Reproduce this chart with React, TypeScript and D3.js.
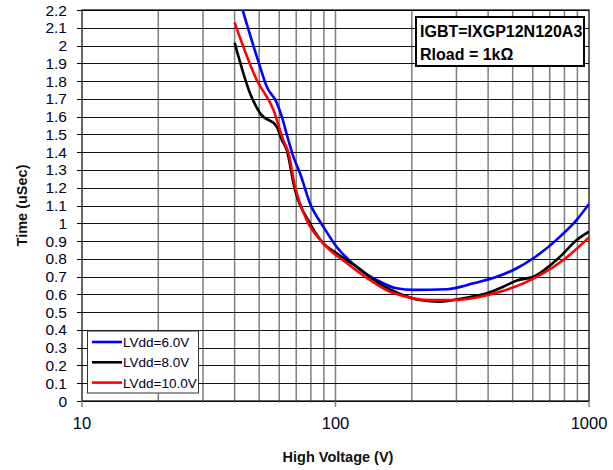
import React from 'react';
import * as d3 from 'd3';

// (voltage in V, time in uSec)
const lv6V = [43.0, 50.4, 53.5, 58.6, 61.4, 65.1, 68.2, 72.5, 79.3, 89.5, 101, 121, 150, 174, 203, 275, 350, 433, 519, 603, 769, 894, 1000];
const lv6T = [2.2, 1.88, 1.77, 1.68, 1.6, 1.47, 1.375, 1.28, 1.113, 0.981, 0.868, 0.756, 0.671, 0.634, 0.625, 0.629, 0.662, 0.699, 0.747, 0.803, 0.925, 1.019, 1.109];

const lv8V = [40, 46.0, 50.4, 58.6, 61.4, 64.2, 69.2, 79.3, 89.5, 101, 121, 150, 177, 215, 258, 319, 395, 459, 519, 603, 769, 894, 1000];
const lv8T = [2.016, 1.732, 1.619, 1.544, 1.469, 1.413, 1.187, 1.0, 0.887, 0.831, 0.756, 0.657, 0.606, 0.568, 0.559, 0.578, 0.606, 0.643, 0.678, 0.699, 0.812, 0.906, 0.953];

const lv10V = [40, 48.9, 56.9, 62.2, 65.3, 69.2, 77.0, 89.5, 111, 137, 164, 179, 236, 292, 372, 446, 551, 661, 792, 1000];
const lv10T = [2.129, 1.806, 1.638, 1.469, 1.394, 1.206, 1.019, 0.887, 0.775, 0.68, 0.615, 0.597, 0.568, 0.568, 0.587, 0.615, 0.662, 0.719, 0.793, 0.921];

const seriesNames = ['LVdd=6.0V', 'LVdd=8.0V', 'LVdd=10.0V'];
const seriesColors = ['#0000ff', '#000000', '#ff0000'];

const xTicks = [10, 100, 1000];
const yTicks = d3.range(0, 23).map((i) => i / 10);

export default function App() {
  const left = 82, right = 589, top = 10, bottom = 401;
  const x = d3.scaleLog().domain([10, 1000]).range([left, right]);
  const y = d3.scaleLinear().domain([0, 2.2]).range([bottom, top]);

  const series = [
    lv6V.map((v, i) => [v, lv6T[i]]),
    lv8V.map((v, i) => [v, lv8T[i]]),
    lv10V.map((v, i) => [v, lv10T[i]]),
  ];

  const line = d3.line<number[]>()
    .x((d) => x(d[0]))
    .y((d) => y(d[1]))
    .curve(d3.curveMonotoneX);

  // minor log grid: 20..90, 200..900
  const minor: number[] = [];
  [10, 100].forEach((b) => { for (let k = 2; k <= 9; k++) minor.push(b * k); });

  const font = 'Liberation Sans, Arial, sans-serif';

  return (
    <svg width={613} height={470} style={{ position: 'absolute', left: 0, top: 0 }}>
      <defs>
        <clipPath id="plot">
          <rect x={left} y={top} width={right - left} height={bottom - top} />
        </clipPath>
      </defs>
      <rect width={613} height={470} fill="#fff" />

      {/* grid */}
      {minor.map((v) => (
        <line key={'v' + v} x1={x(v)} x2={x(v)} y1={top} y2={bottom} stroke="#7f7f7f" strokeWidth={1.5} />
      ))}
      <line x1={x(100)} x2={x(100)} y1={top} y2={bottom} stroke="#7f7f7f" strokeWidth={1.5} />
      {yTicks.map((t) => (
        <line key={'h' + t} x1={left} x2={right} y1={Math.round(y(t)) + 0.5} y2={Math.round(y(t)) + 0.5} stroke="#111" strokeWidth={1} />
      ))}
      <rect x={left} y={top} width={right - left} height={bottom - top} fill="none" stroke="#000" strokeWidth={1.2} />

      {/* y axis */}
      {yTicks.map((t) => (
        <g key={'yt' + t}>
          <line x1={left - 5} x2={left} y1={Math.round(y(t)) + 0.5} y2={Math.round(y(t)) + 0.5} stroke="#000" />
          <text x={67} y={y(t) + 5.5} textAnchor="end" fontFamily={font} fontSize={15.5} fill="#000022">
            {d3.format('')(t)}
          </text>
        </g>
      ))}

      {/* x axis */}
      {xTicks.map((v) => (
        <g key={'xt' + v}>
          <line x1={x(v)} x2={x(v)} y1={bottom} y2={bottom + 6} stroke="#7f7f7f" strokeWidth={1.5} />
          <text x={x(v)} y={429} textAnchor="middle" fontFamily={font} fontSize={16.5} fill="#000022">{v}</text>
        </g>
      ))}
      {minor.map((v) => (
        <line key={'mt' + v} x1={x(v)} x2={x(v)} y1={bottom} y2={bottom + 2} stroke="#7f7f7f" />
      ))}

      <text x={338} y={462} textAnchor="middle" fontFamily={font} fontSize={14.5} fontWeight="bold" fill="#111">High Voltage (V)</text>
      <text transform={`translate(27,${(top + bottom) / 2}) rotate(-90)`} textAnchor="middle" fontFamily={font} fontSize={14.5} fontWeight="bold" fill="#111">Time (uSec)</text>

      {/* curves */}
      <g clipPath="url(#plot)">
        {series.map((s, i) => (
          <path key={'s' + i} d={line(s) || ''} fill="none" stroke={seriesColors[i]} strokeWidth={2.6} strokeLinejoin="round" />
        ))}
      </g>

      {/* annotation */}
      <rect x={416} y={17} width={168} height={49} fill="#fff" stroke="#000" strokeWidth={2} />
      <text x={420} y={37} fontFamily={font} fontSize={16} fontWeight="bold" fill="#000">IGBT=IXGP12N120A3</text>
      <text x={420} y={60} fontFamily={font} fontSize={16} fontWeight="bold" fill="#000">Rload = 1kΩ</text>

      {/* legend */}
      <rect x={87.5} y={331} width={111} height={62} fill="#fff" stroke="#333" strokeWidth={1} />
      {seriesNames.map((n, i) => (
        <g key={'lg' + i}>
          <line x1={92} x2={122} y1={342 + i * 20.3} y2={342 + i * 20.3} stroke={seriesColors[i]} strokeWidth={2.6} />
          <text x={123} y={347 + i * 20.3} fontFamily={font} fontSize={13.5} fill="#000022">{n}</text>
        </g>
      ))}
    </svg>
  );
}
